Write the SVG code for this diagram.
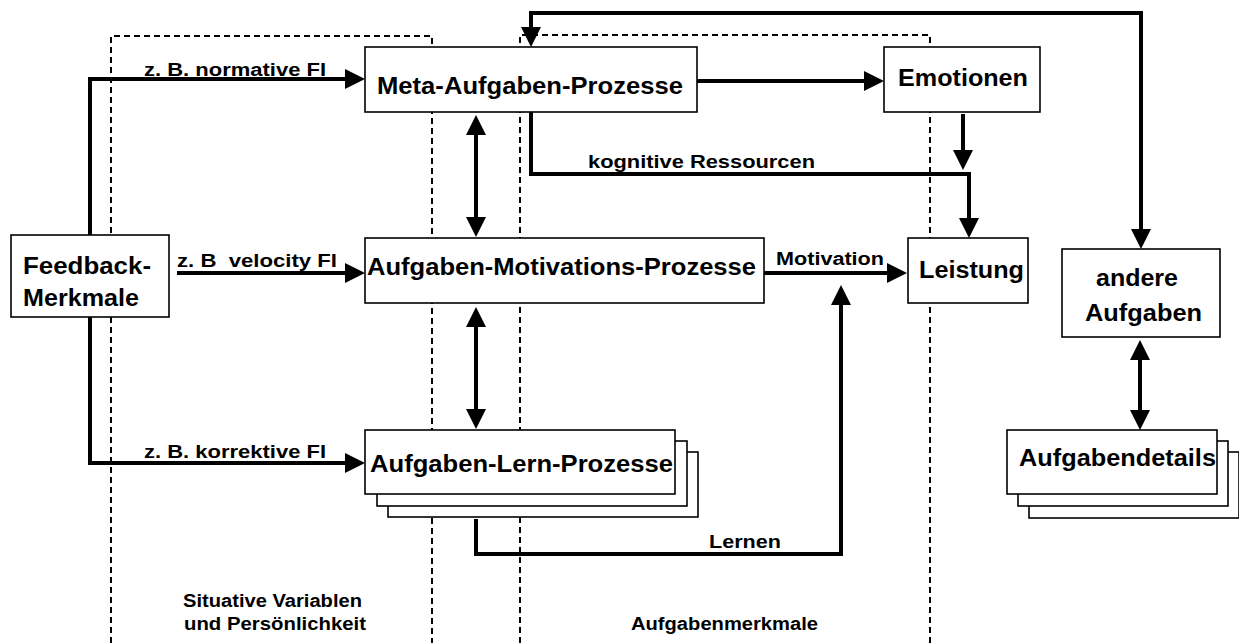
<svg xmlns="http://www.w3.org/2000/svg" width="1239" height="643" viewBox="0 0 1239 643">
  <style>
    .box { fill: #fff; stroke: #000; stroke-width: 1.6; }
    .zone { fill: none; stroke: #000; stroke-width: 2; stroke-dasharray: 6 4; }
    .conn { fill: none; stroke: #000; stroke-width: 4; stroke-linejoin: miter; }
    .lbl { font-family: "Liberation Sans", Arial, sans-serif; font-weight: bold; fill: #000; }
    .big { font-size: 23px; }
    .small { font-size: 18px; }
  </style>
  <defs>
    <marker id="arrow" markerUnits="userSpaceOnUse" markerWidth="20" markerHeight="20" refX="10" refY="10" orient="auto-start-reverse">
      <path d="M0,0 L20,10 L0,20 Z" fill="#000"/>
    </marker>
  </defs>

  <rect width="1239" height="643" fill="#fff"/>

  <!-- dashed context zones -->
  <g id="zones">
    <path class="zone" d="M111,643 V36 H432 V643"/>
    <path class="zone" d="M520,643 V35 H930 V643"/>
    <text class="lbl small" x="183" y="607" textLength="179" lengthAdjust="spacingAndGlyphs">Situative Variablen</text>
    <text class="lbl small" x="184" y="630" textLength="182" lengthAdjust="spacingAndGlyphs">und Persönlichkeit</text>
    <text class="lbl small" x="631" y="630" textLength="187" lengthAdjust="spacingAndGlyphs">Aufgabenmerkmale</text>
  </g>

  <g id="feedback">
    <rect class="box" x="11" y="235" width="158" height="82"/>
    <text class="lbl big" x="23" y="274" textLength="128" lengthAdjust="spacingAndGlyphs">Feedback-</text>
    <text class="lbl big" x="23" y="306" textLength="116" lengthAdjust="spacingAndGlyphs">Merkmale</text>
  </g>

  <g id="meta">
    <rect class="box" x="365" y="47" width="332" height="65"/>
    <text class="lbl big" x="377" y="94" textLength="306" lengthAdjust="spacingAndGlyphs">Meta-Aufgaben-Prozesse</text>
  </g>

  <g id="emotionen">
    <rect class="box" x="884" y="47" width="156" height="65"/>
    <text class="lbl big" x="898" y="86" textLength="130" lengthAdjust="spacingAndGlyphs">Emotionen</text>
  </g>

  <g id="motivation">
    <rect class="box" x="365" y="238" width="399" height="65"/>
    <text class="lbl big" x="367" y="275" textLength="389" lengthAdjust="spacingAndGlyphs">Aufgaben-Motivations-Prozesse</text>
  </g>

  <g id="leistung">
    <rect class="box" x="908" y="238" width="120" height="65"/>
    <text class="lbl big" x="919" y="278" textLength="105" lengthAdjust="spacingAndGlyphs">Leistung</text>
  </g>

  <g id="andere">
    <rect class="box" x="1062" y="249" width="158" height="88"/>
    <text class="lbl big" x="1096" y="286" textLength="82" lengthAdjust="spacingAndGlyphs">andere</text>
    <text class="lbl big" x="1085" y="321" textLength="117" lengthAdjust="spacingAndGlyphs">Aufgaben</text>
  </g>

  <g id="lernen">
    <rect class="box" x="388" y="452" width="310" height="65"/>
    <rect class="box" x="377" y="441" width="310" height="65"/>
    <rect class="box" x="365" y="430" width="310" height="64"/>
    <text class="lbl big" x="370" y="472" textLength="303" lengthAdjust="spacingAndGlyphs">Aufgaben-Lern-Prozesse</text>
  </g>

  <g id="details">
    <rect class="box" x="1029" y="452" width="210" height="66"/>
    <rect class="box" x="1018" y="441" width="210" height="65"/>
    <rect class="box" x="1007" y="430" width="210" height="64"/>
    <text class="lbl big" x="1019" y="466" textLength="197" lengthAdjust="spacingAndGlyphs">Aufgabendetails</text>
  </g>

  <!-- connectors -->
  <g id="connectors">
    <path class="conn" d="M90,235 V79 H355" marker-end="url(#arrow)"/>
    <path class="conn" d="M90,317 V463 H355" marker-end="url(#arrow)"/>
    <path class="conn" d="M177,273 H355" marker-end="url(#arrow)"/>
    <path class="conn" d="M697,81 H874" marker-end="url(#arrow)"/>
    <path class="conn" d="M531,112 V174 H969 V228" marker-end="url(#arrow)"/>
    <path class="conn" d="M963,114 V160" marker-end="url(#arrow)"/>
    <path class="conn" d="M531,37 V13 H1141 V239" marker-start="url(#arrow)" marker-end="url(#arrow)"/>
    <path class="conn" d="M476,125 V227" marker-start="url(#arrow)" marker-end="url(#arrow)"/>
    <path class="conn" d="M476,317 V419" marker-start="url(#arrow)" marker-end="url(#arrow)"/>
    <path class="conn" d="M764,273 H897" marker-end="url(#arrow)"/>
    <path class="conn" d="M476,519 V554 H841 V295" marker-end="url(#arrow)"/>
    <path class="conn" d="M1140,350 V420" marker-start="url(#arrow)" marker-end="url(#arrow)"/>

    <text class="lbl small" x="144" y="76" textLength="182" lengthAdjust="spacingAndGlyphs">z. B. normative FI</text>
    <text class="lbl small" x="177" y="267" textLength="160" lengthAdjust="spacingAndGlyphs" xml:space="preserve">z. B  velocity FI</text>
    <text class="lbl small" x="144" y="458" textLength="182" lengthAdjust="spacingAndGlyphs">z. B. korrektive FI</text>
    <text class="lbl small" x="588" y="168" textLength="227" lengthAdjust="spacingAndGlyphs">kognitive Ressourcen</text>
    <text class="lbl small" x="776" y="265" textLength="108" lengthAdjust="spacingAndGlyphs">Motivation</text>
    <text class="lbl small" x="709" y="548" textLength="72" lengthAdjust="spacingAndGlyphs">Lernen</text>
  </g>
</svg>
